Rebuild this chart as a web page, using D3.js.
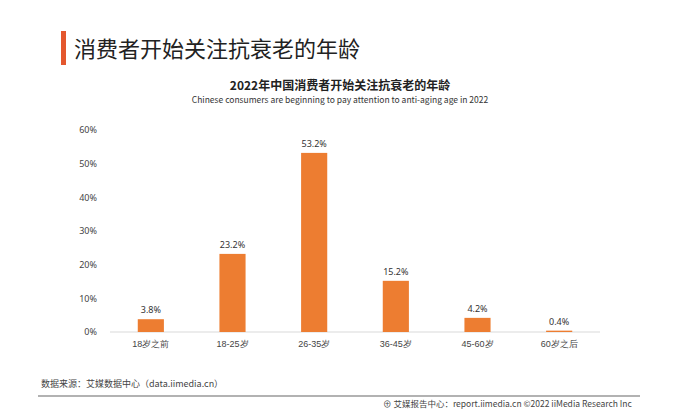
<!DOCTYPE html>
<html lang="zh">
<head>
<meta charset="UTF-8">
<script src="https://d3js.org/d3.v7.min.js"></script>
<style>
    body { margin: 0; background: #fff; font-family: 'Noto Sans CJK SC', 'Noto Sans', sans-serif; }
</style>
</head>
<body>
<div id="chart"></div>
<script>
    const categories = ["18岁之前", "18-25岁", "26-35岁", "36-45岁", "45-60岁", "60岁之后"];
    const values = [3.8, 23.2, 53.2, 15.2, 4.2, 0.4];
    const yTicks = [0, 10, 20, 30, 40, 50, 60];

    const W = 700, H = 412;
    const svg = d3.select("#chart").append("svg").attr("width", W).attr("height", H);

    // page header
    svg.append("rect").attr("x", 61).attr("y", 31).attr("width", 5).attr("height", 34).attr("fill", "#e4572e");
    svg.append("text").attr("x", 74).attr("y", 57).attr("font-size", 22).attr("fill", "#222")
        .text("消费者开始关注抗衰老的年龄");

    svg.append("text").attr("x", 340).attr("y", 90).attr("text-anchor", "middle")
        .attr("font-size", 12).attr("font-weight", "bold").attr("fill", "#222")
        .text("2022年中国消费者开始关注抗衰老的年龄");
    svg.append("text").attr("x", 340).attr("y", 103).attr("text-anchor", "middle")
        .attr("font-size", 8.5).attr("fill", "#333")
        .text("Chinese consumers are beginning to pay attention to anti-aging age in 2022");

    const margin = { left: 110, right: 100, top: 130, bottom: 80 };
    const x = d3.scaleBand().domain(categories).range([margin.left, W - margin.right]).paddingInner(0.68).paddingOuter(0.34);
    const y = d3.scaleLinear().domain([0, 60]).range([332, 130]);

    // y axis labels
    svg.append("g").attr("transform", `translate(${margin.left - 10},0)`)
        .call(d3.axisLeft(y).tickValues(yTicks).tickFormat(d => d + "%").tickSize(0))
        .call(g => g.select(".domain").remove())
        .selectAll("text").attr("font-size", 9).attr("fill", "#444").attr("font-family", "Noto Sans");

    // baseline
    svg.append("line").attr("x1", margin.left).attr("x2", W - margin.right)
        .attr("y1", y(0)).attr("y2", y(0)).attr("stroke", "#d9d9d9");

    // x axis labels
    svg.append("g").attr("transform", `translate(0,${y(0) + 6})`)
        .call(d3.axisBottom(x).tickSize(0))
        .call(g => g.select(".domain").remove())
        .selectAll("text").attr("font-size", 9).attr("fill", "#444");

    svg.selectAll(".bar").data(values).enter().append("rect")
        .attr("x", (d, i) => x(categories[i]))
        .attr("y", d => y(d))
        .attr("width", x.bandwidth())
        .attr("height", d => y(0) - y(d))
        .attr("fill", "#ed7d31");

    svg.selectAll(".lbl").data(values).enter().append("text")
        .attr("x", (d, i) => x(categories[i]) + x.bandwidth() / 2)
        .attr("y", d => y(d) - 6)
        .attr("text-anchor", "middle").attr("font-size", 9).attr("fill", "#333")
        .attr("font-family", "Noto Sans")
        .text(d => d.toFixed(1) + "%");

    // footer
    svg.append("text").attr("x", 41).attr("y", 387).attr("font-size", 9).attr("fill", "#444")
        .text("数据来源：艾媒数据中心（data.iimedia.cn）");
    svg.append("line").attr("x1", 38).attr("x2", 640).attr("y1", 396).attr("y2", 396)
        .attr("stroke", "#999").attr("stroke-width", 1.5);
    svg.append("text").attr("x", 383).attr("y", 407).attr("font-size", 8.5).attr("fill", "#444")
        .text("⊕ 艾媒报告中心：report.iimedia.cn  ©2022  iiMedia Research Inc");
</script>
</body>
</html>
